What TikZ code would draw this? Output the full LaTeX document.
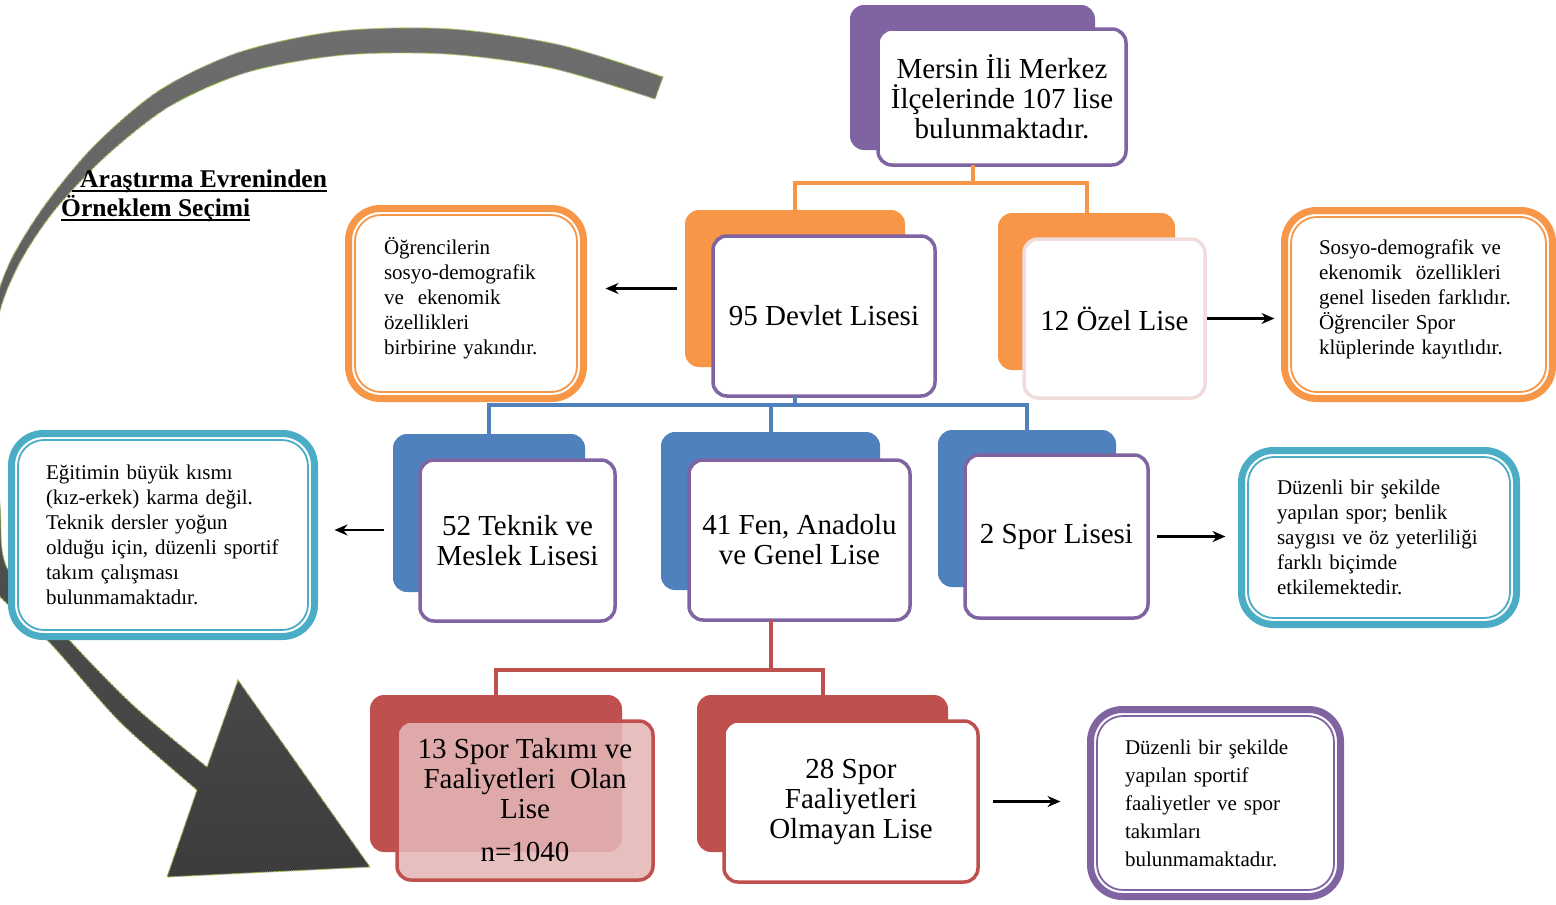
\documentclass[tikz,border=0pt]{standalone}
\usepackage{fontspec}
\setmainfont{Liberation Serif}
\usetikzlibrary{arrows.meta,calc}
\definecolor{mor}{HTML}{8064A2}
\definecolor{turuncu}{HTML}{F79646}
\definecolor{mavi}{HTML}{4F81BD}
\definecolor{kirmizi}{HTML}{C0504D}
\definecolor{cam}{HTML}{4BACC6}
\definecolor{pembe}{HTML}{F2DCDB}
\definecolor{gul}{HTML}{E5B6B6}
\definecolor{agri}{HTML}{6E6E6E}
\definecolor{kgri}{HTML}{3C3C3C}
\definecolor{yesil}{HTML}{9BBB59}
\newcommand{\altciz}[1]{\leavevmode\setbox0=\hbox{#1}\rlap{\rule[-4pt]{\wd0}{1.8pt}}\box0}
\tikzset{
  golge/.style={fill=#1,rounded corners=14pt,inner sep=0pt,outer sep=0pt},
  kutu/.style={draw=#1,fill=white,line width=3.5pt,rounded corners=14pt,inner sep=0pt,outer sep=0pt,align=center,font=\fontsize{29}{30}\selectfont},
  notkutu/.style={draw=#1,fill=white,line width=7pt,rounded corners=32pt,inner sep=0pt,outer sep=0pt,align=left,font=\fontsize{21}{25}\selectfont},
  ic/.style={#1,line width=1.8pt,rounded corners=26pt},
  bag/.style={#1,line width=4pt},
  ok/.style={-{Stealth[length=13pt,width=11pt]},line width=2.2pt},
  kavis/.style={draw=yesil,line width=1.2pt,densely dotted,top color=agri,bottom color=kgri},
}

\begin{document}
\begin{tikzpicture}[x=1pt,y=-1pt]
  \useasboundingbox (0,0) rectangle (1556,905);
  \begin{scope}
    \clip (0,0) rectangle (1556,905);
    \path[kavis] plot[smooth] coordinates {(663,77) (560,45) (450,29) (340,31) (240,52) (160,90) (95,145) (45,205) (10,262) (-10,320) (-32,420) (-25,530) (-10,585) (50,643) (120,722) (197,790)}
      -- (167,877) -- (370,867) -- (238,680)
      -- plot[smooth] coordinates {(207,767) (135,707) (72,643) (8,570) (0,505) (-8,420) (-3,324) (18,266) (54,211) (106,156) (170,106) (248,72) (343,55) (447,54) (551,68) (655,99)}
      -- cycle;
  \end{scope}

  \node[anchor=north west,inner sep=0pt,align=left,font=\bfseries\fontsize{25.5}{29}\selectfont] (baslik) at (61,170) {\hspace*{11pt}\altciz{\hspace*{8pt}Araştırma Evreninden}\\\altciz{Örneklem Seçimi}};

  \node[golge=mor,minimum width=245pt,minimum height=145pt] (ustS) at (972.5,77.5) {};
  \node[kutu=mor,minimum width=248pt,minimum height=136pt] (ust) at (1002,97) {Mersin İli Merkez\\İlçelerinde 107 lise\\bulunmaktadır.};

  \node[golge=turuncu,minimum width=220pt,minimum height=157pt] (devletS) at (795,288.5) {};
  \node[kutu=mor,minimum width=222pt,minimum height=160pt] (devlet) at (824,316) {95 Devlet Lisesi};
  \node[golge=turuncu,minimum width=177pt,minimum height=157pt] (ozelS) at (1086.5,291.5) {};
  \node[kutu=pembe,minimum width=181pt,minimum height=159pt] (ozel) at (1114.5,318.5) {12 Özel Lise};

  \node[golge=mavi,minimum width=192pt,minimum height=158pt] (tekS) at (489,513) {};
  \node[kutu=mor,minimum width=195pt,minimum height=161pt] (tek) at (517.5,540.5) {52 Teknik ve\\Meslek Lisesi};
  \node[golge=mavi,minimum width=219pt,minimum height=158pt] (fenS) at (770.5,511) {};
  \node[kutu=mor,minimum width=221pt,minimum height=160pt] (fen) at (799.5,540) {41 Fen, Anadolu\\ve Genel Lise};
  \node[golge=mavi,minimum width=178pt,minimum height=157pt] (sporS) at (1027,508.5) {};
  \node[kutu=mor,minimum width=183pt,minimum height=163pt] (spor) at (1056.5,536.5) {2 Spor Lisesi};

  \node[golge=kirmizi,minimum width=252pt,minimum height=157pt] (olanS) at (496,773.5) {};
  \node[kutu=kirmizi,fill=gul,fill opacity=0.88,text opacity=1,minimum width=256pt,minimum height=159pt] (olan) at (525,800.5) {13 Spor Takımı ve\\Faaliyetleri~ Olan\\Lise\\[13pt]n=1040};
  \node[golge=kirmizi,minimum width=251pt,minimum height=157pt] (olmS) at (822.5,773.5) {};
  \node[kutu=kirmizi,minimum width=254pt,minimum height=161pt] (olm) at (851,801.5) {28 Spor\\Faaliyetleri\\Olmayan Lise};

  \node[notkutu=turuncu,minimum width=235pt,minimum height=190pt,text width=164pt,text depth=115pt] (notA) at (466,303.5) {Öğrencilerin\\sosyo-demografik\\ve~ ekenomik\\özellikleri\\birbirine yakındır.};
  \node[notkutu=turuncu,minimum width=268pt,minimum height=188pt,text width=199pt,text depth=115pt] (notB) at (1418.5,304.5) {Sosyo-demografik ve\\ekenomik~ özellikleri\\genel liseden farklıdır.\\Öğrenciler Spor\\klüplerinde kayıtlıdır.};
  \node[notkutu=cam,minimum width=303pt,minimum height=203pt,text width=234pt] (notC) at (163,535) {Eğitimin büyük kısmı\\(kız-erkek) karma değil.\\Teknik dersler yoğun\\olduğu için, düzenli sportif\\takım çalışması\\bulunmamaktadır.};
  \node[notkutu=cam,minimum width=275pt,minimum height=174pt,text width=204pt] (notD) at (1379,537.5) {Düzenli bir şekilde\\yapılan spor; benlik\\saygısı ve öz yeterliliği\\farklı biçimde\\etkilemektedir.};
  \node[notkutu=mor,minimum width=250pt,minimum height=187pt,text width=181pt,font=\fontsize{21}{28}\selectfont] (notE) at (1215.5,803) {Düzenli bir şekilde\\yapılan sportif\\faaliyetler ve spor\\takımları\\bulunmamaktadır.};
  \foreach \n/\r in {notA/turuncu,notB/turuncu,notC/cam,notD/cam,notE/mor}
    \draw[ic=\r] ($(\n.north west)+(6.5,6.5)$) rectangle ($(\n.south east)+(-6.5,-6.5)$);

  \draw[bag=turuncu] (ustS.south |- ust.south) -- ++(0,18) coordinate (oj);
  \draw[bag=turuncu] (oj) -| (devletS.north);
  \draw[bag=turuncu] (oj) -| (ozelS.north);
  \draw[bag=mavi] (devletS.south |- devlet.south) -- ++(0,9) coordinate (mj);
  \draw[bag=mavi] (mj) -| (tekS.north);
  \draw[bag=mavi] (mj) -| (fenS.north);
  \draw[bag=mavi] (mj) -| (sporS.north);
  \draw[bag=kirmizi] (fenS.south |- fen.south) -- ++(0,50) coordinate (kj);
  \draw[bag=kirmizi] (kj) -| (olanS.north);
  \draw[bag=kirmizi] (kj) -| (olmS.north);

  \draw[ok,shorten <=8pt,shorten >=22pt] (devletS.west) -- (devletS.west -| notA.east);
  \draw[ok,shorten <=2pt,shorten >=10pt] (ozel.east) -- (ozel.east -| notB.west);
  \draw[ok,shorten <=9pt,shorten >=20pt] ([yshift=-17pt]tekS.west) -- ([yshift=-17pt]tekS.west -| notC.east);
  \draw[ok,shorten <=9pt,shorten >=16pt] (spor.east) -- (spor.east -| notD.west);
  \draw[ok,shorten <=15pt,shorten >=30pt] (olm.east) -- (olm.east -| notE.west);
\end{tikzpicture}
\end{document}
